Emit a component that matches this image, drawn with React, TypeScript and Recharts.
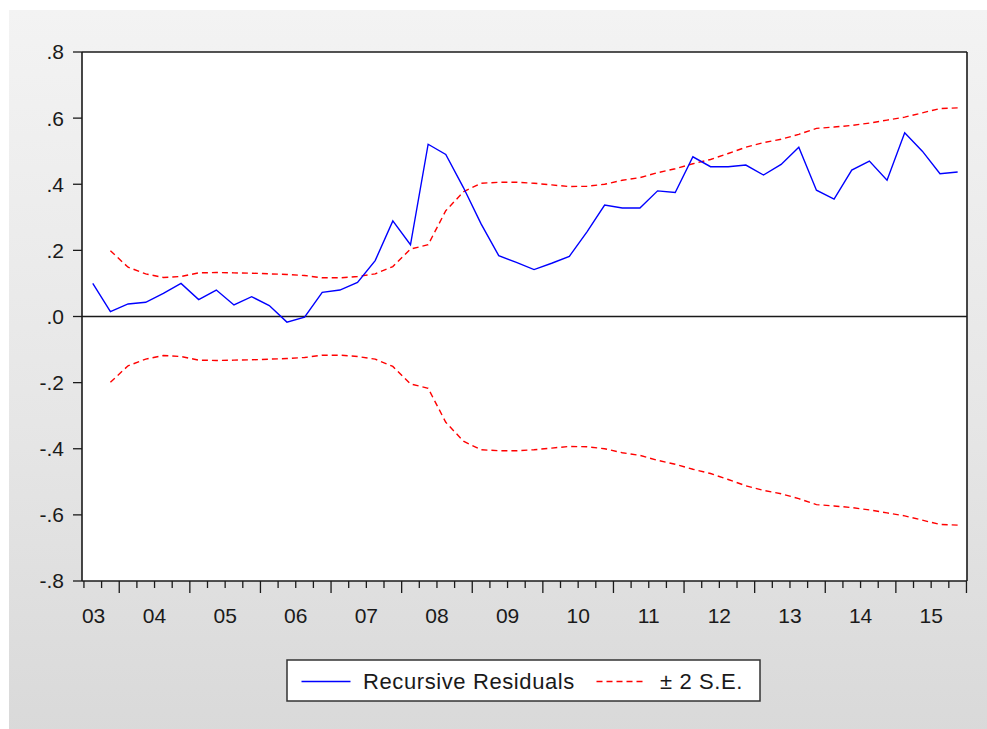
import { LineChart, Line, XAxis, YAxis, CartesianGrid, ReferenceLine } from 'recharts';

// quarterly sample, 2003Q3 .. 2015Q4
const quarters = [
  '2003Q3', '2003Q4',
  '2004Q1', '2004Q2', '2004Q3', '2004Q4',
  '2005Q1', '2005Q2', '2005Q3', '2005Q4',
  '2006Q1', '2006Q2', '2006Q3', '2006Q4',
  '2007Q1', '2007Q2', '2007Q3', '2007Q4',
  '2008Q1', '2008Q2', '2008Q3', '2008Q4',
  '2009Q1', '2009Q2', '2009Q3', '2009Q4',
  '2010Q1', '2010Q2', '2010Q3', '2010Q4',
  '2011Q1', '2011Q2', '2011Q3', '2011Q4',
  '2012Q1', '2012Q2', '2012Q3', '2012Q4',
  '2013Q1', '2013Q2', '2013Q3', '2013Q4',
  '2014Q1', '2014Q2', '2014Q3', '2014Q4',
  '2015Q1', '2015Q2', '2015Q3', '2015Q4',
];

const yearLabels = ['03', '04', '05', '06', '07', '08', '09', '10', '11', '12', '13', '14', '15'];

const residuals = [
  0.100, 0.015,
  0.038, 0.043, 0.070, 0.100,
  0.051, 0.080, 0.035, 0.060,
  0.033, -0.017, -0.002, 0.073,
  0.080, 0.103, 0.169, 0.289,
  0.217, 0.521, 0.490, 0.390,
  0.280, 0.184, 0.164, 0.142,
  0.161, 0.182, 0.256, 0.337,
  0.328, 0.328, 0.380, 0.375,
  0.483, 0.453, 0.453, 0.458,
  0.428, 0.460, 0.512, 0.382,
  0.355, 0.443, 0.470, 0.412,
  0.556, 0.500, 0.432, 0.437,
];

// two standard errors of the recursive residuals (band is +/- this)
const twoSE: (number | null)[] = [
  null, 0.199,
  0.149, 0.129, 0.118, 0.121,
  0.132, 0.133, 0.132, 0.131,
  0.129, 0.127, 0.124, 0.117,
  0.117, 0.121, 0.129, 0.151,
  0.204, 0.217, 0.320, 0.377,
  0.403, 0.406, 0.406, 0.403,
  0.398, 0.393, 0.394, 0.400,
  0.412, 0.420, 0.435, 0.447,
  0.462, 0.475, 0.493, 0.512,
  0.526, 0.536, 0.551, 0.569,
  0.573, 0.578, 0.585, 0.594,
  0.603, 0.616, 0.629, 0.631,
];

const yTicks = [-0.8, -0.6, -0.4, -0.2, 0, 0.2, 0.4, 0.6, 0.8];

// each observation sits in the middle of its quarter
const data = quarters.map((q, i) => ({
  q,
  t: i + 0.5,
  resid: residuals[i],
  upper: twoSE[i],
  lower: twoSE[i] == null ? null : -(twoSE[i] as number),
}));

// quarter boundaries: 0 = start of 2003Q3
const quarterEdges = Array.from({ length: quarters.length + 1 }, (_, i) => i);

const X_DOMAIN: [number, number] = [-0.11, 50.03];
const Y_DOMAIN: [number, number] = [-0.8, 0.8];

const FONT = '"Liberation Sans", Arial, sans-serif';
const INK = '#1a1a1a';
const FRAME = { stroke: INK, strokeWidth: 1.6 };
const PANEL_BG = 'linear-gradient(to bottom, #f3f3f3 0%, #e6e6e6 55%, #d8d8d8 100%)';

const fmtY = (v: number) => {
  if (Math.abs(v) < 1e-9) return '.0';
  return v.toFixed(1).replace('0.', '.');
};

function QuarterTick(props: any) {
  const { x, y, payload } = props;
  const b: number = payload.value;
  const major = (b - 2) % 4 === 0;
  let label: string | null = null;
  let anchor: 'start' | 'middle' = 'middle';
  let lx = x;
  if (b === 0) {
    label = yearLabels[0];
    anchor = 'start';
    lx = x - 2;
  } else if (b % 4 === 0) {
    label = yearLabels[b / 4];
  }
  return (
    <g>
      <line x1={x} y1={y} x2={x} y2={y + (major ? 12 : 7)} stroke={INK} strokeWidth={1.3} />
      {label && (
        <text x={lx} y={y + 42} textAnchor={anchor} fontSize={21} fill={INK} fontFamily={FONT}>
          {label}
        </text>
      )}
    </g>
  );
}

function LegendBox() {
  return (
    <svg width={476} height={44} style={{ position: 'absolute', left: 286, top: 659 }}>
      <rect x={1} y={1} width={473} height={41} fill="#fff" stroke="#333" strokeWidth={1.5} />
      <line x1={15.5} y1={22.5} x2={64.5} y2={22.5} stroke="#0000ff" strokeWidth={1.4} />
      <text x={77} y={30} fontSize={22} letterSpacing={0.6} fill={INK} fontFamily={FONT}>
        Recursive Residuals
      </text>
      <line x1={310.5} y1={22.5} x2={357.5} y2={22.5} stroke="#ff0000" strokeWidth={1.4} strokeDasharray="6 4" />
      <text x={374} y={30} fontSize={22} letterSpacing={0.6} fill={INK} fontFamily={FONT}>
        ± 2 S.E.
      </text>
    </svg>
  );
}

export default function App() {
  return (
    <>
      <style>{'html, body { margin: 0; padding: 0; background: #fff; overflow: hidden; }'}</style>
      <div style={{ position: 'fixed', left: 0, top: 0, width: 1000, height: 760 }}>
        <div
          style={{
            position: 'absolute',
            left: 9,
            top: 10,
            width: 991,
            height: 750,
            background: PANEL_BG,
          }}
        />
        <div style={{ position: 'absolute', left: 0, top: 0 }}>
          <LineChart
            width={987}
            height={729}
            data={data}
            margin={{ top: 51, right: 19, bottom: 108, left: 12 }}
          >
            <CartesianGrid horizontal={false} vertical={false} fill="#fff" />
            <XAxis
              dataKey="t"
              type="number"
              domain={X_DOMAIN}
              allowDataOverflow
              ticks={quarterEdges}
              interval={0}
              tickSize={0}
              tickMargin={0}
              tickLine={false}
              axisLine={FRAME}
              tick={<QuarterTick />}
              height={40}
            />
            {/* top and right edges of the frame, same scales as the main axes */}
            <XAxis
              xAxisId="top"
              dataKey="t"
              orientation="top"
              type="number"
              domain={X_DOMAIN}
              allowDataOverflow
              tick={false}
              tickLine={false}
              axisLine={FRAME}
              height={1}
            />
            <YAxis
              type="number"
              domain={Y_DOMAIN}
              ticks={yTicks}
              interval={0}
              allowDataOverflow
              tickFormatter={fmtY}
              tickSize={9}
              tickMargin={9}
              tickLine={{ stroke: INK, strokeWidth: 1.3 }}
              axisLine={FRAME}
              tick={{ fontSize: 21, fill: INK, fontFamily: FONT }}
              width={70}
            />
            <YAxis
              yAxisId="right"
              orientation="right"
              type="number"
              domain={Y_DOMAIN}
              allowDataOverflow
              tick={false}
              tickLine={false}
              axisLine={FRAME}
              width={1}
            />
            <ReferenceLine y={0} stroke={INK} strokeWidth={1.5} />
            <Line
              dataKey="upper"
              xAxisId="top"
              stroke="#ff0000"
              strokeWidth={1.4}
              strokeDasharray="6 4"
              dot={false}
              isAnimationActive={false}
            />
            <Line
              dataKey="lower"
              yAxisId="right"
              stroke="#ff0000"
              strokeWidth={1.4}
              strokeDasharray="6 4"
              dot={false}
              isAnimationActive={false}
            />
            <Line
              dataKey="resid"
              stroke="#0000ff"
              strokeWidth={1.4}
              dot={false}
              isAnimationActive={false}
            />
          </LineChart>
        </div>
        <LegendBox />
      </div>
    </>
  );
}
